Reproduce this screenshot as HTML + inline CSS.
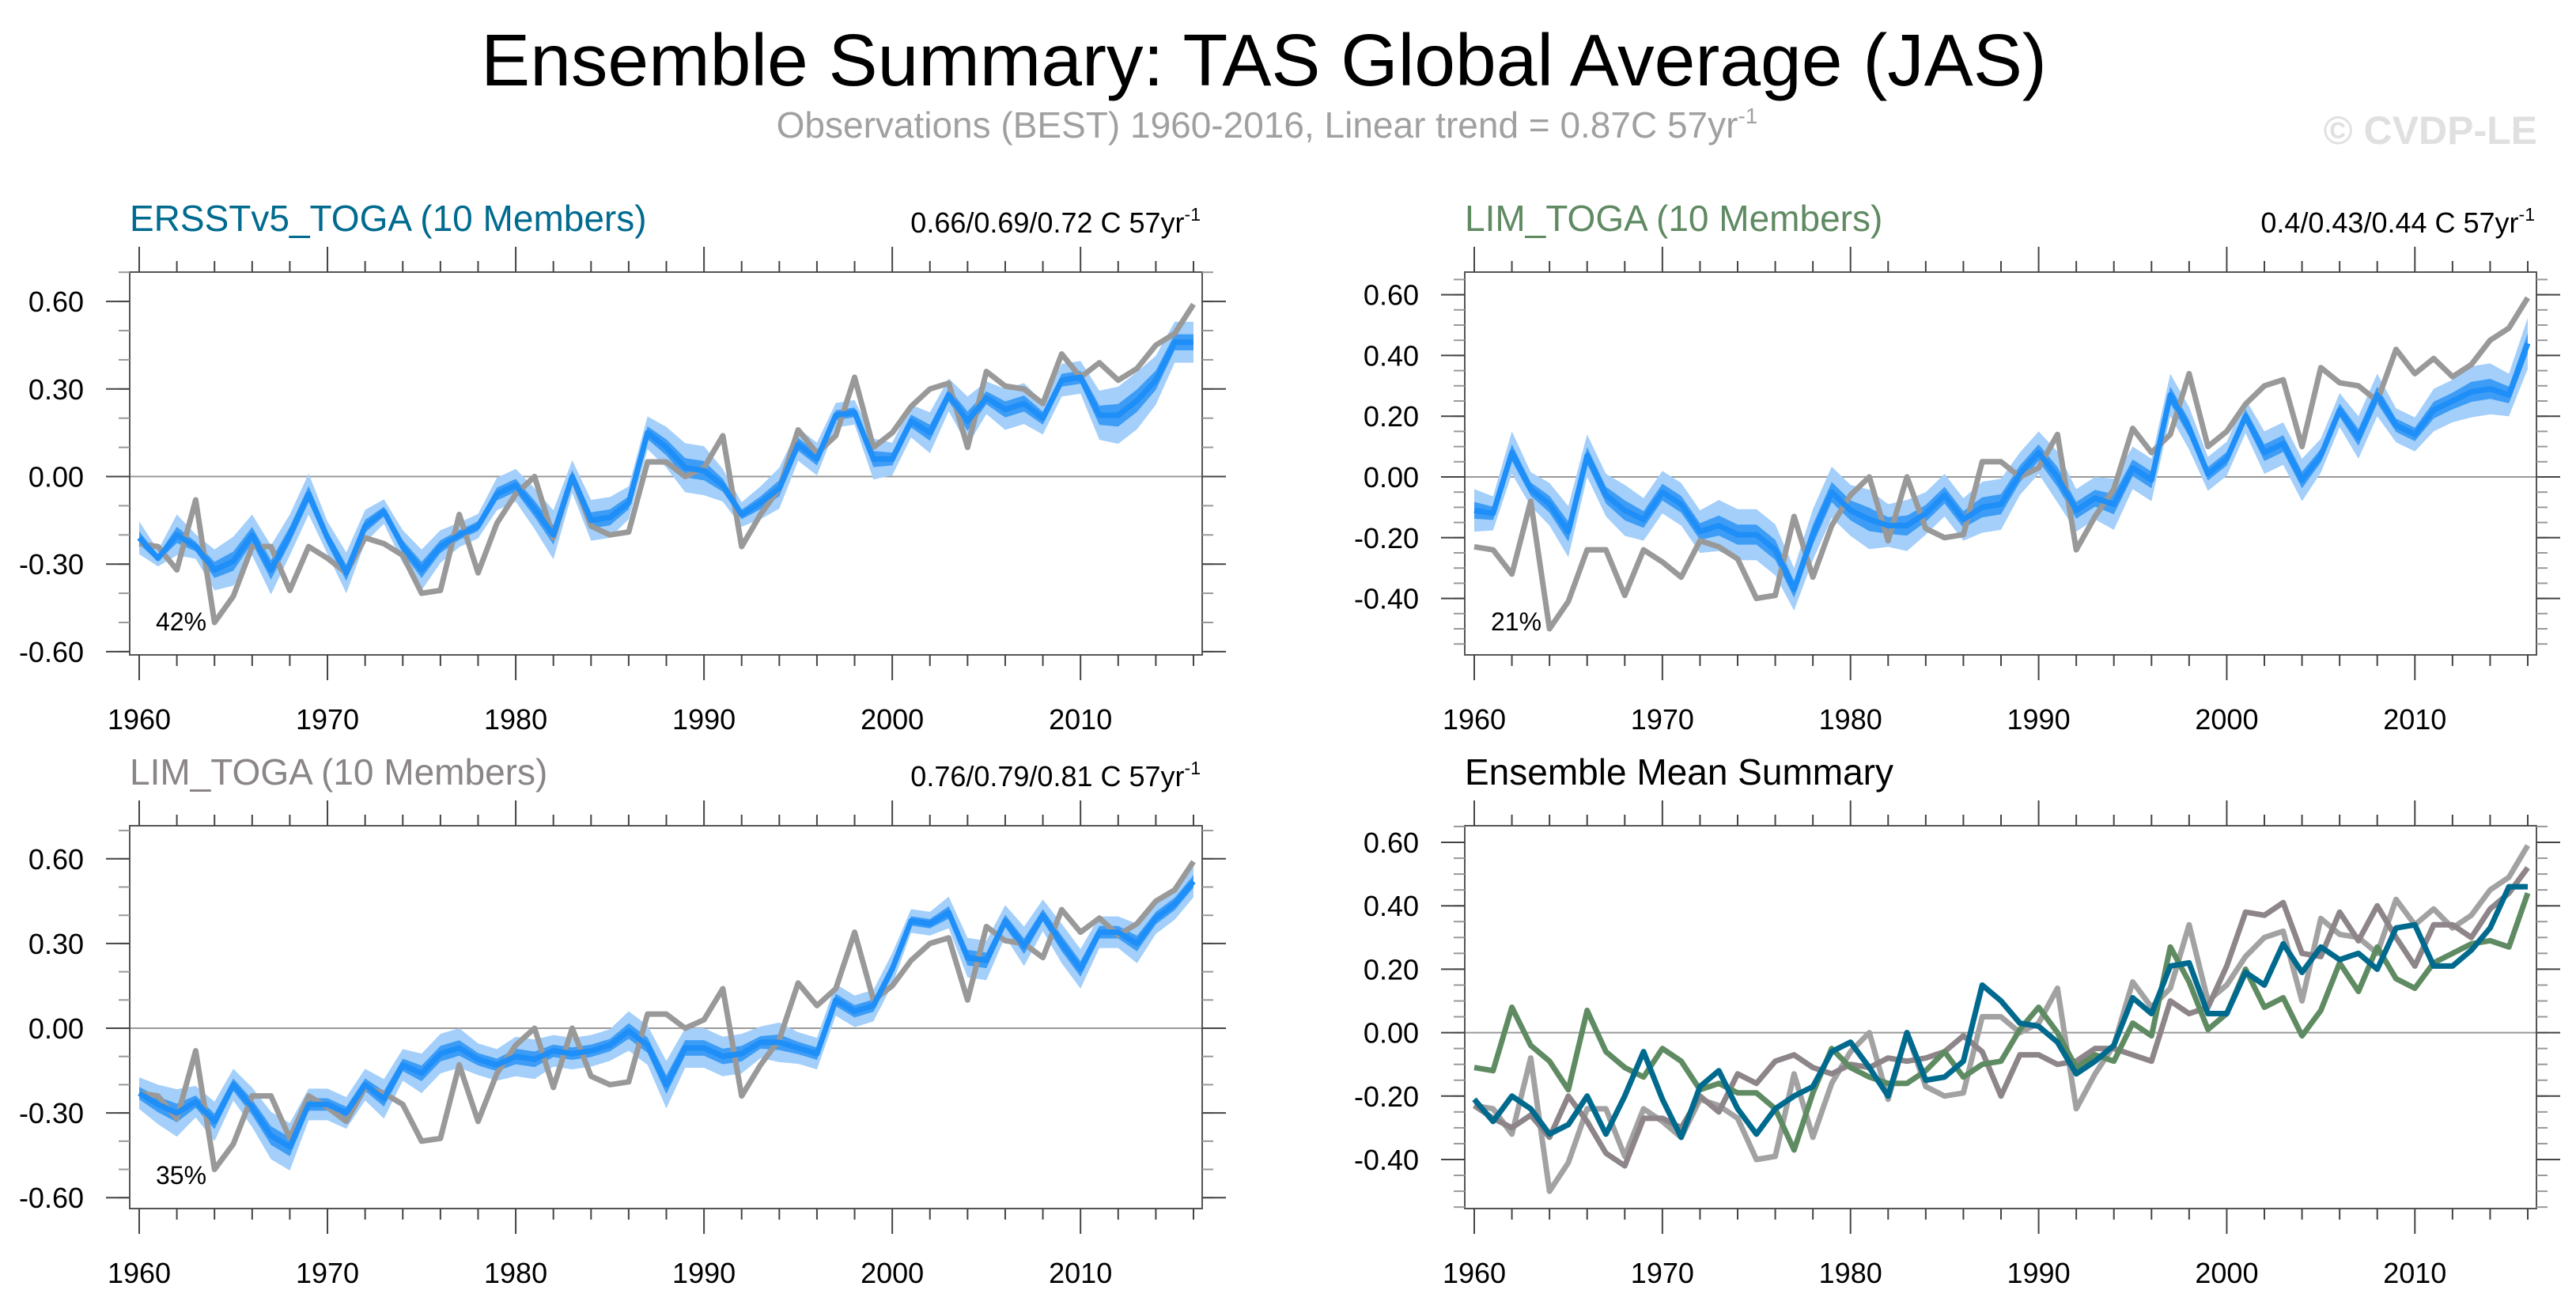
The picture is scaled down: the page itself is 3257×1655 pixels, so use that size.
<!DOCTYPE html>
<html><head><meta charset="utf-8">
<style>
html,body{margin:0;padding:0;background:#fff;}
body{width:3257px;height:1650px;overflow:hidden;font-family:"Liberation Sans",sans-serif;}
svg text{font-family:"Liberation Sans",sans-serif;}
</style></head>
<body>
<svg id="chart" width="3257" height="1650" viewBox="0 0 3257 1650" xmlns="http://www.w3.org/2000/svg">
<text x="1598" y="108" font-size="93" text-anchor="middle" fill="#000">Ensemble Summary: TAS Global Average (JAS)</text>
<text x="1602" y="174" font-size="46" text-anchor="middle" fill="#a0a0a0">Observations (BEST) 1960-2016, Linear trend = 0.87C 57yr<tspan font-size="28" dy="-18">-1</tspan></text>
<text x="3208" y="182" font-size="50" font-weight="bold" text-anchor="end" fill="#e0e0e0">© CVDP-LE</text>
</svg>
<script>
const years = [];
for (let y = 1960; y <= 2016; y++) years.push(y);
const obsBEST = [-0.23,-0.24,-0.32,-0.08,-0.50,-0.41,-0.24,-0.24,-0.39,-0.24,-0.28,-0.33,-0.21,-0.23,-0.27,-0.40,-0.39,-0.13,-0.33,-0.16,-0.06,0.00,-0.21,0.00,-0.17,-0.20,-0.19,0.05,0.05,0.00,0.03,0.14,-0.24,-0.13,-0.04,0.16,0.08,0.14,0.34,0.10,0.15,0.24,0.30,0.32,0.10,0.36,0.31,0.30,0.25,0.42,0.34,0.39,0.33,0.37,0.45,0.49,0.59];
const meanERSST = [-0.21,-0.28,-0.20,-0.24,-0.32,-0.29,-0.20,-0.32,-0.20,-0.06,-0.21,-0.33,-0.17,-0.12,-0.24,-0.32,-0.24,-0.20,-0.17,-0.06,-0.03,-0.11,-0.20,0.00,-0.15,-0.14,-0.09,0.15,0.10,0.03,0.02,-0.03,-0.13,-0.09,-0.04,0.11,0.06,0.21,0.22,0.06,0.06,0.19,0.15,0.28,0.19,0.27,0.23,0.25,0.20,0.33,0.34,0.21,0.21,0.26,0.33,0.46,0.46];
const meanLIM = [-0.11,-0.12,0.08,-0.04,-0.09,-0.18,0.07,-0.06,-0.11,-0.14,-0.05,-0.09,-0.18,-0.16,-0.19,-0.19,-0.24,-0.37,-0.19,-0.05,-0.11,-0.14,-0.16,-0.16,-0.12,-0.06,-0.14,-0.10,-0.09,0.01,0.08,0.00,-0.11,-0.07,-0.09,0.03,-0.01,0.27,0.16,0.01,0.06,0.20,0.08,0.11,-0.01,0.07,0.22,0.13,0.27,0.17,0.14,0.22,0.25,0.28,0.29,0.27,0.44];
const meanLIM3 = [-0.23,-0.27,-0.30,-0.26,-0.33,-0.20,-0.28,-0.38,-0.42,-0.27,-0.27,-0.30,-0.20,-0.25,-0.13,-0.16,-0.09,-0.07,-0.11,-0.13,-0.10,-0.11,-0.08,-0.09,-0.08,-0.06,-0.01,-0.06,-0.20,-0.07,-0.07,-0.10,-0.09,-0.05,-0.05,-0.07,-0.09,0.10,0.06,0.08,0.21,0.38,0.37,0.41,0.25,0.24,0.38,0.29,0.40,0.30,0.21,0.34,0.34,0.30,0.39,0.44,0.52];
const spreadERSST = [0.04,0.02,0.05,0.03,0.05,0.06,0.05,0.06,0.05,0.05,0.04,0.05,0.04,0.03,0.04,0.05,0.04,0.03,0.03,0.04,0.04,0.05,0.06,0.04,0.05,0.05,0.04,0.04,0.05,0.06,0.06,0.04,0.03,0.04,0.05,0.04,0.04,0.03,0.03,0.05,0.04,0.04,0.05,0.04,0.06,0.04,0.05,0.05,0.04,0.04,0.04,0.06,0.07,0.07,0.06,0.05,0.05];
const spreadLIM = [0.05,0.04,0.05,0.04,0.05,0.06,0.05,0.05,0.06,0.05,0.05,0.05,0.05,0.06,0.06,0.06,0.06,0.05,0.06,0.06,0.06,0.07,0.05,0.06,0.05,0.05,0.05,0.06,0.06,0.05,0.05,0.06,0.05,0.05,0.06,0.05,0.05,0.05,0.05,0.04,0.04,0.04,0.05,0.05,0.05,0.04,0.04,0.05,0.05,0.04,0.04,0.05,0.05,0.06,0.06,0.05,0.06];
const spreadLIM3 = [0.04,0.05,0.06,0.04,0.05,0.04,0.05,0.06,0.06,0.04,0.04,0.04,0.04,0.05,0.04,0.05,0.05,0.05,0.04,0.04,0.05,0.05,0.04,0.04,0.04,0.04,0.05,0.05,0.06,0.05,0.05,0.05,0.05,0.04,0.05,0.04,0.04,0.04,0.04,0.04,0.04,0.03,0.03,0.04,0.05,0.05,0.04,0.05,0.04,0.05,0.05,0.04,0.04,0.05,0.04,0.04,0.04];
const xTickYears = [1960,1970,1980,1990,2000,2010];
const yTicksA = [0.6,0.3,0,-0.3,-0.6];
const yTicksB = [0.6,0.4,0.2,0,-0.2,-0.4];
const yTickLabelsA = ["0.60","0.30","0.00","-0.30","-0.60"];
const yTickLabelsB = ["0.60","0.40","0.20","0.00","-0.20","-0.40"];

const NS = "http://www.w3.org/2000/svg";
const svg = document.getElementById('chart');
function mk(tag, attrs, parent){const e=document.createElementNS(NS,tag);for(const k in attrs)e.setAttribute(k,attrs[k]);(parent||svg).appendChild(e);return e;}

function panel(cfg){
  const g = mk('g',{});
  
  
  const X = yr => cfg.x0 + (yr-1960)*(cfg.x1-cfg.x0)/56;
  const Y = v => cfg.yZero - v*cfg.ppu;
  const t = mk('text',{x:cfg.left, y:cfg.top-52, 'font-size':46, fill:cfg.titleColor},g);
  t.textContent = cfg.title;
  
  
  if (cfg.trend){
    const tr = mk('text',{x:cfg.right-2, y:cfg.top-50, 'font-size':36, 'text-anchor':'end', fill:'#000'},g);
    tr.textContent = cfg.trend + ' C 57yr';
    const sp = mk('tspan',{'font-size':23,dy:-15},tr); sp.textContent='-1';
    
    
  }
  mk('rect',{x:cfg.left,y:cfg.top,width:cfg.right-cfg.left,height:cfg.bottom-cfg.top,fill:'#fff'},g);
  const zl = mk('line',{x1:cfg.left,x2:cfg.right,y1:Y(0),y2:Y(0),stroke:'#999','stroke-width':2},g);
  
  
  if (cfg.mean && !cfg.multi){
    const sp = cfg.spread;
    let up = years.map((yr,i)=>X(yr)+','+Y(cfg.mean[i]+sp[i]*1.4));
    let lo = years.map((yr,i)=>X(yr)+','+Y(cfg.mean[i]-sp[i]*1.4)).reverse();
    const ob = mk('polygon',{points:up.concat(lo).join(' '),fill:'#a3cffa'},g);
    
    
    up = years.map((yr,i)=>X(yr)+','+Y(cfg.mean[i]+sp[i]*0.55));
    lo = years.map((yr,i)=>X(yr)+','+Y(cfg.mean[i]-sp[i]*0.55)).reverse();
    const ib = mk('polygon',{points:up.concat(lo).join(' '),fill:'#3d9cf5'},g);
    
    
  }
  function line(arr,color,w,nm){
    const p = mk('polyline',{points:years.map((yr,i)=>X(yr)+','+Y(arr[i])).join(' '),fill:'none',stroke:color,'stroke-width':w,'stroke-linejoin':'round'},g);
    
    
  }
  if (cfg.multi){
    line(obsBEST,'#a2a2a2',7,cfg.name+'-obs-line');
    line(meanLIM3,'#8d8589',7,cfg.name+'-lim-toga-grey-line');
    line(meanLIM,'#5f8b62',7,cfg.name+'-lim-toga-green-line');
    line(meanERSST,'#006a8e',7,cfg.name+'-ersst-line');
  } else {
    line(obsBEST,'#999',7,cfg.name+'-obs-line');
    line(cfg.mean,'#1e8ef8',7,cfg.name+'-ensemble-mean-line');
  }
  mk('rect',{x:cfg.left,y:cfg.top,width:cfg.right-cfg.left,height:cfg.bottom-cfg.top,fill:'none',stroke:'#555','stroke-width':2},g);
  for (let yr=1960; yr<=2016; yr+=2){
    const maj = yr%10===0, L = maj?32:14, x=X(yr);
    mk('line',{x1:x,x2:x,y1:cfg.bottom,y2:cfg.bottom+L,stroke:'#444','stroke-width':2},g);
    mk('line',{x1:x,x2:x,y1:cfg.top,y2:cfg.top-L,stroke:'#444','stroke-width':2},g);
  }
  xTickYears.forEach(yr=>{
    const tl = mk('text',{x:X(yr),y:cfg.bottom+94,'font-size':36,'text-anchor':'middle',fill:'#000'},g);
    tl.textContent = yr;
    
    
  });
  const minorStep = cfg.minorStep;
  const vlo = (cfg.yZero-cfg.bottom)/cfg.ppu, vhi = (cfg.yZero-cfg.top)/cfg.ppu;
  for (let v=Math.ceil(vlo/minorStep-1e-6)*minorStep; v<=vhi+1e-6; v+=minorStep){
    const y=Y(v);
    mk('line',{x1:cfg.left,x2:cfg.left-14,y1:y,y2:y,stroke:'#999','stroke-width':2},g);
    mk('line',{x1:cfg.right,x2:cfg.right+14,y1:y,y2:y,stroke:'#999','stroke-width':2},g);
  }
  cfg.yTicks.forEach((v,i)=>{
    const y=Y(v);
    mk('line',{x1:cfg.left,x2:cfg.left-30,y1:y,y2:y,stroke:'#444','stroke-width':2},g);
    mk('line',{x1:cfg.right,x2:cfg.right+30,y1:y,y2:y,stroke:'#444','stroke-width':2},g);
    const tl = mk('text',{x:cfg.left-58,y:y+13,'font-size':36,'text-anchor':'end',fill:'#000'},g);
    tl.textContent = cfg.yLabels[i];
    
    
  });
  if (cfg.pct){
    const pc = mk('text',{x:cfg.left+33,y:cfg.pctY,'font-size':32,fill:'#000'},g);
    pc.textContent = cfg.pct;
    
    
  }
}

panel({name:'ersst-toga-panel',title:'ERSSTv5_TOGA (10 Members)',titleColor:'#006b8f',trend:'0.66/0.69/0.72',
  left:164,right:1520,top:344,bottom:828,x0:176,x1:1509,yZero:602.5,ppu:369,yTicks:yTicksA,yLabels:yTickLabelsA,minorStep:0.1,
  mean:meanERSST,spread:spreadERSST,pct:'42%',pctY:797});
panel({name:'lim-toga-green-panel',title:'LIM_TOGA (10 Members)',titleColor:'#5f8a62',trend:'0.4/0.43/0.44',
  left:1852,right:3207,top:344,bottom:828,x0:1864,x1:3196,yZero:603,ppu:384,yTicks:yTicksB,yLabels:yTickLabelsB,minorStep:0.05,
  mean:meanLIM,spread:spreadLIM,pct:'21%',pctY:797});
panel({name:'lim-toga-grey-panel',title:'LIM_TOGA (10 Members)',titleColor:'#8a8587',trend:'0.76/0.79/0.81',
  left:164,right:1520,top:1044,bottom:1528,x0:176,x1:1509,yZero:1300,ppu:357,yTicks:yTicksA,yLabels:yTickLabelsA,minorStep:0.1,
  mean:meanLIM3,spread:spreadLIM3,pct:'35%',pctY:1497});
panel({name:'ensemble-mean-summary-panel',title:'Ensemble Mean Summary',titleColor:'#000',trend:null,
  left:1852,right:3207,top:1044,bottom:1528,x0:1864,x1:3196,yZero:1305.6,ppu:401,yTicks:yTicksB,yLabels:yTickLabelsB,minorStep:0.05,
  multi:true});
</script>
</body></html>
